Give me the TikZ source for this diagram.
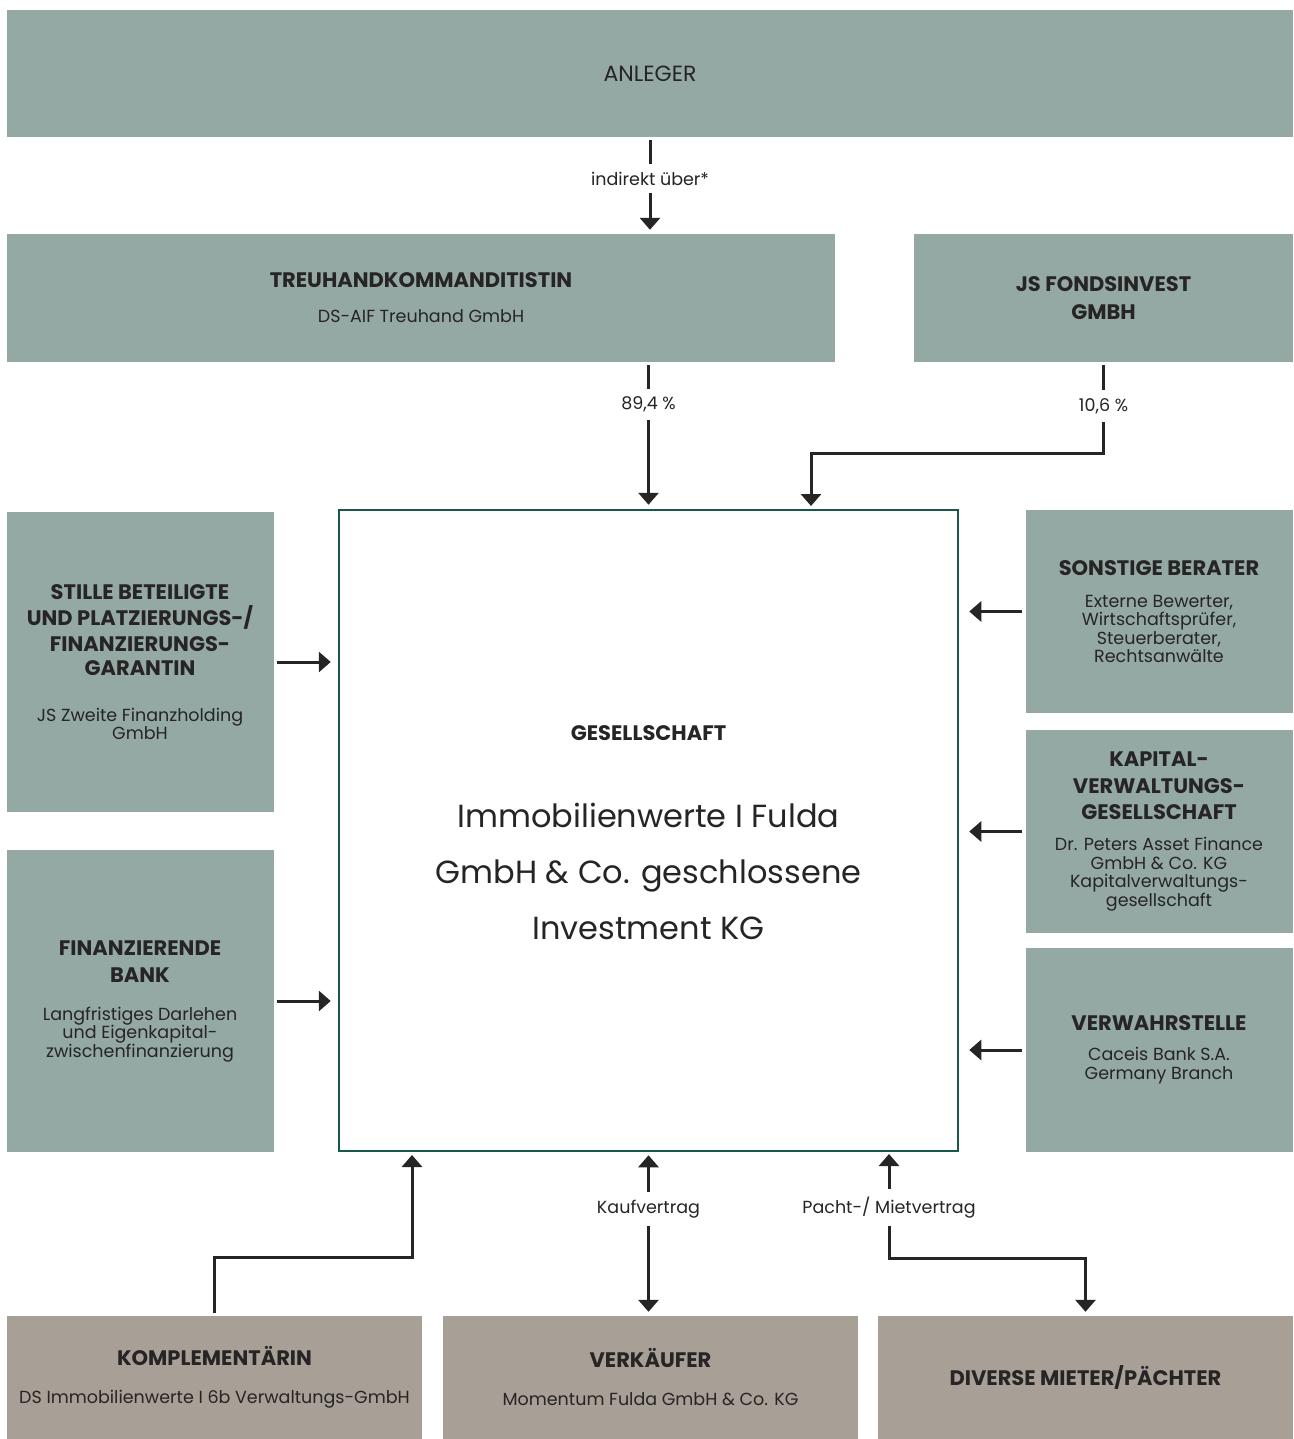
\documentclass[tikz,border=0pt]{standalone}
\usepackage{fontspec}
\setmainfont{Poppins}
\usetikzlibrary{arrows.meta}

\newcommand{\ttl}[1]{{\bfseries\fontsize{21}{24}\selectfont #1}}

\begin{document}
\begin{tikzpicture}[x=1pt, y=-1pt, >={Triangle[length=12pt,width=20pt]}]

  \definecolor{sage}{RGB}{149,169,164}
  \definecolor{taupe}{RGB}{168,159,150}
  \definecolor{pine}{RGB}{24,88,74}
  \definecolor{ink}{RGB}{38,36,37}

  \tikzstyle{box} = [fill=sage, text=ink, align=center, inner sep=0pt, font=\fontsize{17.5}{18.5}\selectfont]
  \tikzstyle{sidebox} = [box, minimum width=267pt]
  \tikzstyle{lowbox} = [box, fill=taupe, minimum width=415pt, minimum height=123pt]
  \tikzstyle{conn} = [draw=ink, line width=3pt, shorten <=3pt, shorten >=4pt]
  \tikzstyle{lbl} = [fill=white, text=ink, inner xsep=2pt, inner ysep=8pt, font=\fontsize{17.5}{18}\selectfont]

  \fill[white] (0,0) rectangle (1293,1439);
  \useasboundingbox (0,0) rectangle (1293,1439);

  % top row
  \node[box, minimum width=1286pt, minimum height=127pt, font=\fontsize{22}{24}\selectfont] (anleger) at (650,73.5) {ANLEGER};
  \node[box, minimum width=828pt, minimum height=128pt] (treu) at (421,298)
    {\ttl{TREUHANDKOMMANDITISTIN}\\[16.5pt] DS-AIF Treuhand GmbH};
  \node[box, minimum width=379pt, minimum height=128pt] (fonds) at (1103.5,298)
    {\ttl{JS FONDSINVEST}\\[9.5pt]\ttl{GMBH}};

  % Gesellschaft
  \node[draw=pine, line width=2.5pt, minimum width=619pt, minimum height=641pt] (ges) at (648.5,830.5) {};
  \node[text=ink] (gestitel) at (648.5,733) {\ttl{GESELLSCHAFT}};
  \node[text=ink, align=center, font=\fontsize{32}{56}\selectfont] (gesname) at (648.5,871)
    {Immobilienwerte I Fulda\\GmbH \& Co. geschlossene\\Investment KG};

  % left side
  \node[sidebox, minimum height=300pt] (stille) at (140,662)
    {\ttl{STILLE BETEILIGTE}\\[5.5pt]\ttl{UND PLATZIERUNGS-/}\\[5.5pt]\ttl{FINANZIERUNGS-}\\[5.5pt]\ttl{GARANTIN}\\[27.5pt]
     JS Zweite Finanzholding\\GmbH};
  \node[sidebox, minimum height=302pt] (fin) at (140,1001)
    {\ttl{FINANZIERENDE}\\[8.5pt]\ttl{BANK}\\[19.5pt]
     Langfristiges Darlehen\\und Eigenkapital-\\zwischenfinanzierung};

  % right side
  \node[sidebox, minimum height=203pt] (sonst) at (1159,611.5)
    {\ttl{SONSTIGE BERATER}\\[13.5pt]
     Externe Bewerter,\\Wirtschaftsprüfer,\\Steuerberater,\\Rechtsanwälte};
  \node[sidebox, minimum height=203pt] (kap) at (1159,831.5)
    {\ttl{KAPITAL-}\\[8pt]\ttl{VERWALTUNGS-}\\[8pt]\ttl{GESELLSCHAFT}\\[12.5pt]
     Dr. Peters Asset Finance\\GmbH \& Co. KG\\Kapitalverwaltungs-\\gesellschaft};
  \node[sidebox, minimum height=204pt] (verw) at (1159,1050)
    {\ttl{VERWAHRSTELLE}\\[11.5pt]
     Caceis Bank S.A.\\Germany Branch};

  % bottom row
  \node[lowbox] (komp) at (214.5,1377.5)
    {\ttl{KOMPLEMENTÄRIN}\\[19.5pt] DS Immobilienwerte I 6b Verwaltungs-GmbH};
  \node[lowbox] (verk) at (650.5,1377.5)
    {\ttl{VERKÄUFER}\\[19.5pt] Momentum Fulda GmbH \& Co. KG};
  \node[lowbox] (div) at (1085.5,1377.5) {\ttl{DIVERSE MIETER/PÄCHTER}};

  \coordinate (fondsin) at (811,510);
  \coordinate (kompin) at (412,1151);
  \coordinate (pachtin) at (889,1151);

  % connectors
  \draw[conn, ->] (anleger.south) -- node[lbl, pos=0.43] {indirekt über*} (anleger.south |- treu.north);
  \draw[conn, ->] (treu.south -| ges.north) -- node[lbl, pos=0.29] {89,4 \%} (ges.north);
  \draw[conn, ->] (fonds.south) -- node[lbl, pos=0.48] {10,6 \%} ++(0,91) -| (fondsin);

  \draw[conn, ->, shorten >=7pt] (stille.east) -- (stille.east -| ges.west);
  \draw[conn, ->, shorten >=7pt] (fin.east) -- (fin.east -| ges.west);

  \draw[conn, ->, shorten >=10pt] (sonst.west) -- (sonst.west -| ges.east);
  \draw[conn, ->, shorten >=10pt] (kap.west) -- (kap.west -| ges.east);
  \draw[conn, ->, shorten >=10pt] (verw.west) -- (verw.west -| ges.east);

  \draw[conn, ->] (komp.north) -- ++(0,-58) -| (kompin);
  \draw[conn, <->] (ges.south) -- node[lbl, pos=0.345] {Kaufvertrag} (ges.south |- verk.north);
  \draw[conn, <->] (pachtin) -- node[lbl, pos=0.53] {Pacht-/ Mietvertrag} ++(0,107) -| (div.north);

\end{tikzpicture}
\end{document}
